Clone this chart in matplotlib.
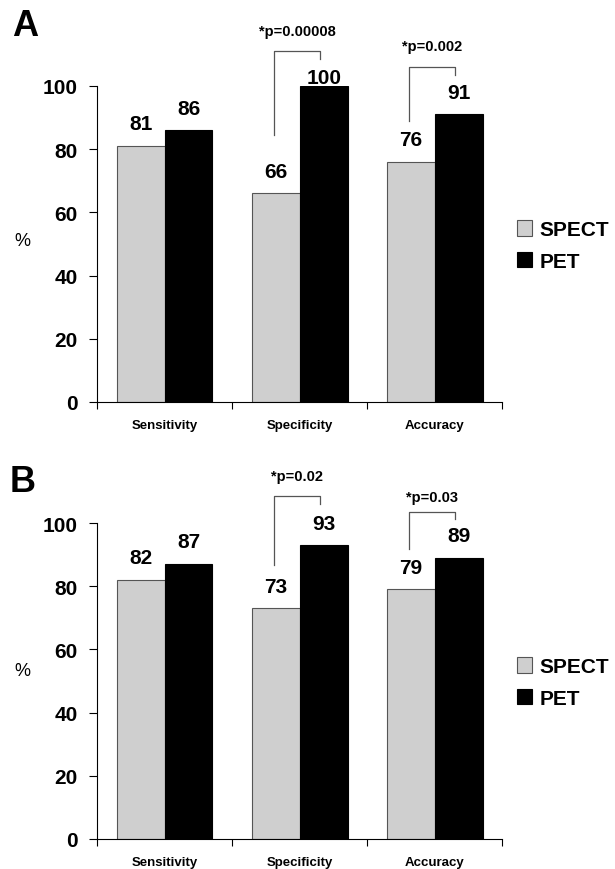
import matplotlib.pyplot as plt
import numpy as np

plt.rcParams['font.family'] = ['Liberation Sans', 'DejaVu Sans']

categories = ['Sensitivity', 'Specificity', 'Accuracy']
series_names = ['SPECT', 'PET']
spect_a = [81, 66, 76]
pet_a = [86, 100, 91]
spect_b = [82, 73, 79]
pet_b = [87, 93, 89]
pvalues_a = {1: '*p=0.00008', 2: '*p=0.002'}
pvalues_b = {1: '*p=0.02', 2: '*p=0.03'}

BAR_W = 0.353
SPECT_COLOR = '#cfcfcf'


def draw_panel(ax, spect, pet, pvals, brackets):
    x = np.arange(len(categories))
    ax.bar(x - BAR_W / 2, spect, BAR_W, color=SPECT_COLOR, edgecolor='#555555',
           linewidth=0.8, label=series_names[0])
    ax.bar(x + BAR_W / 2, pet, BAR_W, color='black', edgecolor='black',
           linewidth=0.8, label=series_names[1])

    # value labels above bars
    for xs, vals in ((x - BAR_W / 2, spect), (x + BAR_W / 2, pet)):
        for xi, v in zip(xs, vals):
            ax.text(xi, min(v + 7, 102.8), str(v), ha='center', va='center',
                    fontsize=15, fontweight='bold', clip_on=False)

    # significance brackets
    for i, (top, lbot, rbot, ty) in brackets.items():
        xl, xr = i - 0.19, i + 0.15
        ax.plot([xl, xl, xr, xr], [lbot, top, top, rbot], color='#555555',
                linewidth=0.9, clip_on=False)
        ax.text(i - 0.02, ty, pvals[i], ha='center', va='center',
                fontsize=10.5, fontweight='bold', clip_on=False)

    ax.set_xlim(-0.5, 2.5)
    ax.set_ylim(0, 100)
    ax.set_yticks(range(0, 101, 20))
    ax.set_xticks([-0.5, 0.5, 1.5, 2.5])
    ax.set_xticklabels([])
    ax.tick_params(axis='y', length=6, width=0.8, pad=8, labelsize=15)
    ax.tick_params(axis='x', length=5, width=0.8)
    for lab in ax.get_yticklabels():
        lab.set_fontweight('bold')
    for xi, c in zip(x, categories):
        ax.text(xi, -7.3, c, ha='center', va='center', fontsize=9.5,
                fontweight='bold')
    for s in ('top', 'right'):
        ax.spines[s].set_visible(False)
    ax.spines['left'].set_linewidth(0.8)
    ax.spines['bottom'].set_linewidth(0.8)

    ax.legend(loc='center left', bbox_to_anchor=(1.035, 0.495), frameon=False,
              handlelength=0.75, handleheight=0.75, handletextpad=0.35,
              labelspacing=0.6, borderpad=0, borderaxespad=0,
              prop={'size': 15, 'weight': 'bold'})


fig = plt.figure(figsize=(6.15, 8.7), dpi=100)
ax_a = fig.add_axes([0.158, 0.5368, 0.659, 0.3632])
ax_b = fig.add_axes([0.158, 0.0345, 0.659, 0.3632])

draw_panel(ax_a, spect_a, pet_a, pvalues_a,
           {1: (111, 84.5, 108.5, 117.4), 2: (106, 89, 103.5, 112.6)})
draw_panel(ax_b, spect_b, pet_b, pvalues_b,
           {1: (108.4, 86.7, 106, 115), 2: (103.6, 91.8, 101.3, 108.2)})

fig.text(25 / 615, 1 - 27 / 870, 'A', fontsize=26, fontweight='bold',
         ha='center', va='center')
fig.text(23 / 615, 1 - 483 / 870, 'B', fontsize=26, fontweight='bold',
         ha='center', va='center')
fig.text(22 / 615, 1 - 242 / 870, '%', fontsize=13, ha='center', va='center')
fig.text(22 / 615, 1 - 672 / 870, '%', fontsize=13, ha='center', va='center')

fig.savefig('out.png', dpi=100)
